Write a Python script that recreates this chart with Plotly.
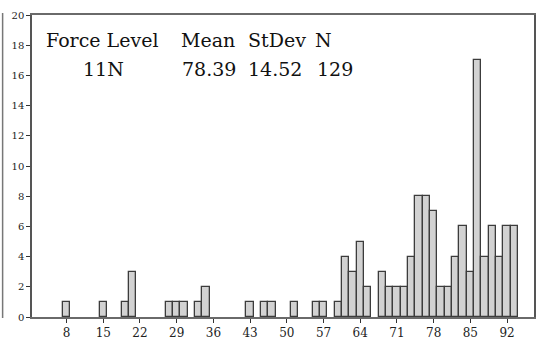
import plotly.graph_objects as go

# Histogram bins (centre of each non-empty bin) and their counts
bin_centers = [8.0, 15.0, 19.2, 20.6, 27.6, 29.0, 30.4, 33.2, 34.6, 43.0, 45.8, 47.2,
               51.4, 55.6, 57.0, 59.8, 61.2, 62.6, 64.0, 65.4, 68.2, 69.6, 71.0, 72.4,
               73.8, 75.2, 76.6, 78.0, 79.4, 80.8, 82.2, 83.6, 85.0, 86.4, 87.8, 89.2,
               90.6, 92.0, 93.4]
counts = [1, 1, 1, 3, 1, 1, 1, 1, 2, 1, 1, 1,
          1, 1, 1, 1, 4, 3, 5, 2, 3, 2, 2, 2,
          4, 8, 8, 7, 2, 2, 4, 6, 3, 17, 4, 6,
          4, 6, 6]
bin_width = 1.4

x_ticks = [8, 15, 22, 29, 36, 43, 50, 57, 64, 71, 78, 85, 92]
y_ticks = [0, 2, 4, 6, 8, 10, 12, 14, 16, 18, 20]

header = ["Force Level", "Mean", "StDev", "N"]
values = ["11N", "78.39", "14.52", "129"]

W, H = 540, 344
L, R, T, B = 32, 4, 15, 25
pw, ph = W - L - R, H - T - B

def px(xp):
    return (xp - L) / pw

def py(yp):
    return (H - B - yp) / ph

fig = go.Figure()
fig.add_trace(go.Bar(
    x=bin_centers, y=counts, width=bin_width,
    marker=dict(color="#d2d2d2", line=dict(color="#3c3c3c", width=1.3)),
    showlegend=False,
))

font = "DejaVu Serif"
ann = []
hx = [44, 180, 247, 314]
vx = [81, 181, 247, 316]
for t, xp in zip(header, hx):
    ann.append(dict(x=px(xp), y=py(40), xref="paper", yref="paper", text=t,
                    showarrow=False, xanchor="left", yanchor="middle",
                    font=dict(family=font, size=19, color="#111")))
for t, xp in zip(values, vx):
    ann.append(dict(x=px(xp), y=py(69), xref="paper", yref="paper", text=t,
                    showarrow=False, xanchor="left", yanchor="middle",
                    font=dict(family=font, size=19, color="#111")))

fig.update_layout(
    width=W, height=H,
    margin=dict(l=L, r=R, t=T, b=B),
    paper_bgcolor="white", plot_bgcolor="white",
    bargap=0,
    font=dict(family=font),
    annotations=ann,
    shapes=[dict(type="line", xref="paper", yref="paper",
                 x0=px(2.5), x1=px(2.5), y0=py(13), y1=py(320),
                 line=dict(color="#777", width=1.5))],
)
fig.update_xaxes(
    range=[1.41, 97.13], tickvals=x_ticks, ticktext=[str(v) for v in x_ticks],
    showline=True, mirror=True, linecolor="#6a6a6a", linewidth=1.5,
    ticks="outside", ticklen=4, tickcolor="#333", tickwidth=1,
    showgrid=False, zeroline=False,
    tickfont=dict(family=font, size=12, color="#222"),
)
fig.update_yaxes(
    range=[0, 20], tickvals=y_ticks,
    showline=True, mirror=True, linecolor="#555", linewidth=1.5,
    ticks="outside", ticklen=4, tickcolor="#333", tickwidth=1,
    showgrid=False, zeroline=False,
    tickfont=dict(family=font, size=10, color="#222"),
)

fig.write_html("out.html")
